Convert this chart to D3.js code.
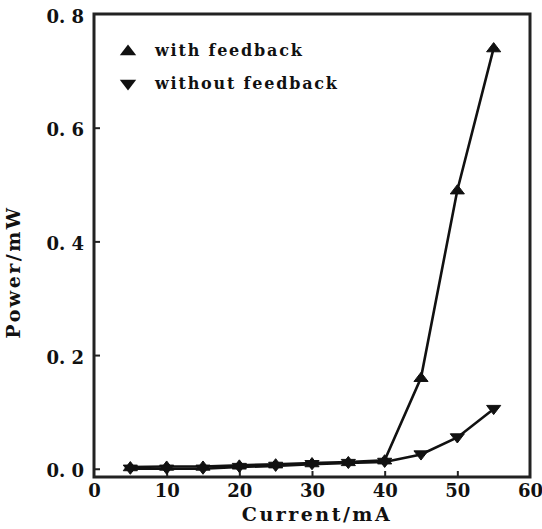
<!DOCTYPE html>
<html>
<head>
<meta charset="utf-8">
<script src="https://cdn.jsdelivr.net/npm/d3@7"></script>
<style>
  body { margin: 0; background: #fff; }
  text { font-family: "DejaVu Serif", "Liberation Serif", serif; font-weight: bold; fill: #111; }
</style>
</head>
<body>
<div id="dataviz"></div>
<script>
// data
const current = [5, 10, 15, 20, 25, 30, 35, 40, 45, 50, 55];
const withFeedback = [0.003, 0.004, 0.004, 0.006, 0.008, 0.01, 0.012, 0.015, 0.16, 0.49, 0.74];
const withoutFeedback = [0.0, 0.0, 0.0, 0.003, 0.005, 0.008, 0.01, 0.012, 0.025, 0.055, 0.105];
const xTicks = [0, 10, 20, 30, 40, 50, 60];
const yTicks = [0, 0.2, 0.4, 0.6, 0.8];

const W = 542, H = 529;
const margin = {top: 14, right: 12, bottom: 52, left: 94};
const width = W - margin.left - margin.right;
const height = H - margin.top - margin.bottom;

var svg = d3.select("#dataviz")
  .append("svg")
    .attr("width", W)
    .attr("height", H)
  .append("g")
    .attr("transform", `translate(${margin.left}, ${margin.top})`);

var xScale = d3.scaleLinear().domain([0, 60]).range([0, width]);
var yScale = d3.scaleLinear().domain([-0.0145, 0.8]).range([height, 0]);

// frame
svg.append("rect")
  .attr("x", 0).attr("y", 0)
  .attr("width", width).attr("height", height)
  .attr("fill", "none")
  .attr("stroke", "#222")
  .attr("stroke-width", 3);

// axes with inward ticks
var xAxis = svg.append("g")
  .attr("transform", `translate(0, ${height})`)
  .call(d3.axisBottom(xScale).tickValues(xTicks).tickSizeInner(-6).tickSizeOuter(0).tickPadding(9));
xAxis.select(".domain").remove();
xAxis.selectAll("line").attr("stroke", "#222").attr("stroke-width", 2);
xAxis.selectAll("text").style("font-size", "18px").attr("fill", "#111").attr("dy", "0.6em");
xAxis.selectAll(".tick").filter(d => d === 0 || d === 60).select("line").remove();

var yAxis = svg.append("g")
  .call(d3.axisLeft(yScale).tickValues(yTicks).tickSizeInner(-6).tickSizeOuter(0).tickPadding(10)
    .tickFormat(d => d3.format(".1f")(d).replace(".", ". ")));
yAxis.select(".domain").remove();
yAxis.selectAll("line").attr("stroke", "#222").attr("stroke-width", 2);
yAxis.selectAll("text").style("font-size", "18px").attr("fill", "#111").attr("dy", "0.45em");
yAxis.selectAll(".tick").filter(d => d === 0.8).select("line").remove();

// axis titles
svg.append("text")
  .attr("x", 223)
  .attr("y", height + 44)
  .attr("text-anchor", "middle")
  .style("font-size", "19px")
  .style("letter-spacing", "2.5px")
  .text("Current/mA");

svg.append("text")
  .attr("transform", `translate(${-74}, ${258}) rotate(-90)`)
  .attr("text-anchor", "middle")
  .style("font-size", "19px")
  .style("letter-spacing", "2.5px")
  .text("Power/mW");

// series
const series = [
  {name: "with feedback", values: withFeedback, symbol: "up"},
  {name: "without feedback", values: withoutFeedback, symbol: "down"}
];

var line = d3.line()
  .x((d, i) => xScale(current[i]))
  .y(d => yScale(d));

// wide, flat triangle like the scanned markers
const flatTriangle = {
  draw(context, size) {
    const w = Math.sqrt(size) * 1.0, h = Math.sqrt(size) * 0.65;
    context.moveTo(0, -h * 0.6);
    context.lineTo(w / 2, h * 0.4);
    context.lineTo(-w / 2, h * 0.4);
    context.closePath();
  }
};
var tri = d3.symbol().type(flatTriangle).size(200);
var legendTri = d3.symbol().type(flatTriangle).size(270);

series.forEach(s => {
  svg.append("path")
    .datum(s.values)
    .attr("d", line)
    .attr("fill", "none")
    .attr("stroke", "#111")
    .attr("stroke-width", 2.6);

  svg.selectAll(null)
    .data(s.values)
    .enter()
    .append("path")
      .attr("d", tri)
      .attr("transform", (d, i) => `translate(${xScale(current[i])}, ${yScale(d)}) rotate(${s.symbol === "up" ? 0 : 180})`)
      .attr("fill", "#111")
      .attr("stroke", "#111")
      .attr("stroke-width", 1)
      .attr("stroke-linejoin", "round");
});

// legend
var legend = svg.append("g").attr("transform", "translate(34, 37)");
series.forEach((s, i) => {
  var g = legend.append("g").attr("transform", `translate(0, ${i * 33})`);
  g.append("path")
    .attr("d", legendTri)
    .attr("transform", `rotate(${s.symbol === "up" ? 0 : 180})`)
    .attr("fill", "#111");
  g.append("text")
    .attr("x", 27)
    .attr("y", 5)
    .style("font-size", "16px")
    .style("letter-spacing", "1.8px")
    .text(s.name);
});
</script>
</body>
</html>
